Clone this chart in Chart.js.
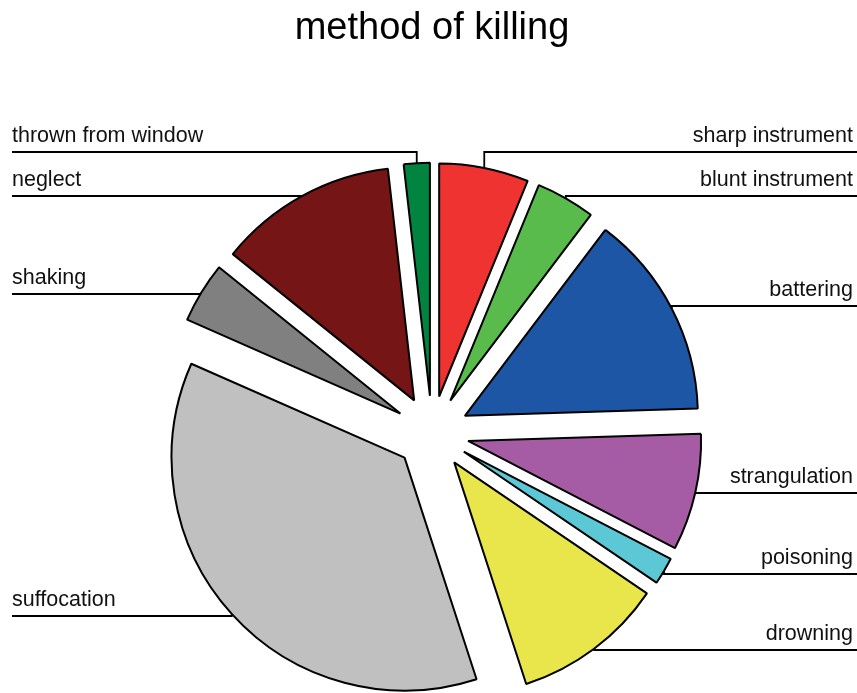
<!DOCTYPE html>
<html>
<head>
<meta charset="utf-8">
<script src="https://cdn.jsdelivr.net/npm/chart.js@4.4.1/dist/chart.umd.min.js"></script>
<style>
  html, body { margin: 0; padding: 0; background: #fff; }
  canvas { display: block; }
</style>
</head>
<body>
<canvas id="pie" width="857" height="693"></canvas>
<script>
const methods = [
  "sharp instrument",
  "blunt instrument",
  "battering",
  "strangulation",
  "poisoning",
  "drowning",
  "suffocation",
  "shaking",
  "neglect",
  "thrown from window",
];

// share of cases, percent
const shares = [6.2, 4.1, 14.2, 8.1, 1.9, 10.5, 36.6, 4.2, 12.4, 1.8];

const sliceColors = [
  "#EE3330",
  "#58BB4B",
  "#1C56A5",
  "#A65BA5",
  "#5CC8D6",
  "#E8E64B",
  "#C0C0C0",
  "#808080",
  "#751515",
  "#00843F",
];

// where each label's leader line sits (layout only)
const labelSide = ["right", "right", "right", "right", "right", "right", "left", "left", "left", "left"];
const labelLineY = [152, 196, 306, 493, 574, 650, 616, 294, 196, 152];

const FONT = "'Liberation Sans', Arial, sans-serif";
const RADIUS = 233;
const EXPLODE = 37; // px each slice is pulled out from the centre

// leader lines + labels, then every slice drawn pulled out along its mid angle
const explodedPie = {
  id: "explodedPie",
  beforeDatasetsDraw(chart) {
    const ctx = chart.ctx;
    const arcs = chart.getDatasetMeta(0).data;
    const W = chart.width;

    ctx.save();
    ctx.strokeStyle = "#000";
    ctx.lineWidth = 1.8;
    ctx.fillStyle = "#111";
    ctx.font = "21.5px " + FONT;
    ctx.textBaseline = "alphabetic";
    arcs.forEach((arc, i) => {
      const mid = (arc.startAngle + arc.endAngle) / 2;
      const r = arc.outerRadius + EXPLODE;
      const ax = arc.x + Math.cos(mid) * r;
      const ay = arc.y + Math.sin(mid) * r;
      const ly = labelLineY[i];
      const right = labelSide[i] === "right";

      ctx.beginPath();
      ctx.moveTo(right ? W : 12, ly);
      ctx.lineTo(ax, ly);
      ctx.lineTo(ax, ay);
      ctx.stroke();

      ctx.textAlign = right ? "right" : "left";
      ctx.fillText(methods[i], right ? 853 : 12, ly - 10);
    });
    ctx.restore();

    arcs.forEach((arc) => {
      const mid = (arc.startAngle + arc.endAngle) / 2;
      ctx.save();
      ctx.translate(Math.cos(mid) * EXPLODE, Math.sin(mid) * EXPLODE);
      arc.draw(ctx);
      ctx.restore();
    });
    return false;
  },
};

new Chart(document.getElementById("pie"), {
  type: "pie",
  data: {
    labels: methods,
    datasets: [
      {
        data: shares,
        backgroundColor: sliceColors,
        borderColor: "#000",
        borderWidth: 2,
        clip: false,
      },
    ],
  },
  options: {
    responsive: false,
    animation: false,
    devicePixelRatio: 1,
    radius: RADIUS,
    layout: { padding: { left: 7, right: 0, top: 0, bottom: 0 } },
    plugins: {
      legend: { display: false },
      tooltip: { enabled: false },
      title: {
        display: true,
        text: "method of killing",
        color: "#000",
        font: { family: FONT, size: 38, weight: "normal", lineHeight: 1.2 },
        padding: { top: 6, bottom: 121 },
      },
    },
  },
  plugins: [explodedPie],
});
</script>
</body>
</html>
